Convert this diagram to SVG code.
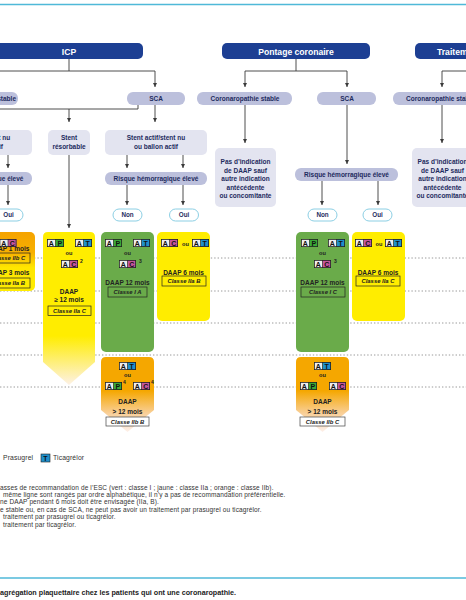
<svg xmlns="http://www.w3.org/2000/svg" xmlns:xlink="http://www.w3.org/1999/xlink" width="466" height="600" viewBox="0 0 466 600">
<style>
text{font-family:"Liberation Sans",Arial,sans-serif}
.hdr{fill:#1d3f93}
.hdt{fill:#fff;font-weight:bold;font-size:8.6px;text-anchor:middle}
.lv{fill:#bcc0dc}
.lv2{fill:#e3e4f0}
.lt{fill:#1e2b5e;font-weight:bold;font-size:6.5px;text-anchor:middle}
.pill{fill:#fff;stroke:#8ccfe4;stroke-width:1}
.pt{fill:#1e2b5e;font-weight:bold;font-size:6.3px;text-anchor:middle}
.dot{stroke:#9a9a9a;stroke-width:1;stroke-dasharray:1.4 2}
.con{stroke:#3a3a3a;stroke-width:0.9;fill:none}
.arr{marker-end:url(#ah)}
.bt{fill:#222;font-weight:bold;font-size:6.5px;text-anchor:middle}
.ou{fill:#222;font-weight:bold;font-size:5.6px;text-anchor:middle}
.sup{fill:#222;font-weight:bold;font-size:5px}
.cl{fill:none;stroke:#222;stroke-width:0.7}
.clw{fill:#fff;stroke:#444;stroke-width:0.7}
.clt{fill:#222;font-weight:bold;font-style:italic;font-size:5.9px;text-anchor:middle}
.bl{fill:#111;font-weight:bold;font-size:7px;text-anchor:middle}
.fn{fill:#333;font-size:6.5px;letter-spacing:0.12px}
.green{fill:#6aab4a}
.yellow{fill:#ffed00}
</style>
<defs>
<marker id="ah" viewBox="0 0 6 6" refX="6" refY="3" markerWidth="4.5" markerHeight="4.5" markerUnits="userSpaceOnUse" orient="auto">
<path d="M0,0 L6,3 L0,6 z" fill="#3a3a3a"/>
</marker>
<linearGradient id="gYR" x1="0" y1="0" x2="0" y2="1">
<stop offset="0" stop-color="#ffed00"/><stop offset="0.68" stop-color="#ffed00"/><stop offset="1" stop-color="#fdf1e6"/>
</linearGradient>
<linearGradient id="gOr" x1="0" y1="0" x2="0" y2="1">
<stop offset="0" stop-color="#f5a700"/><stop offset="0.45" stop-color="#f5a700"/><stop offset="0.75" stop-color="#f9cf98"/><stop offset="1" stop-color="#fdf0ea"/>
</linearGradient>
<linearGradient id="gL" x1="0" y1="0" x2="0" y2="1">
<stop offset="0" stop-color="#f5a300"/><stop offset="0.35" stop-color="#f7b000"/><stop offset="0.6" stop-color="#ffe600"/><stop offset="1" stop-color="#ffed00"/>
</linearGradient>
<g id="bAP"><rect x="0" y="0" width="8.5" height="8" fill="#eeeeee"/><rect x="8.5" y="0" width="8.5" height="8" fill="#3aa836"/><rect x="0.4" y="0.4" width="16.2" height="7.2" fill="none" stroke="#222" stroke-width="0.8"/><line x1="8.5" y1="0" x2="8.5" y2="8" stroke="#222" stroke-width="0.6"/><text x="4.25" y="6.7" class="bl">A</text><text x="12.75" y="6.7" class="bl">P</text></g>
<g id="bAT"><rect x="0" y="0" width="8.5" height="8" fill="#eeeeee"/><rect x="8.5" y="0" width="8.5" height="8" fill="#1f8fcb"/><rect x="0.4" y="0.4" width="16.2" height="7.2" fill="none" stroke="#222" stroke-width="0.8"/><line x1="8.5" y1="0" x2="8.5" y2="8" stroke="#222" stroke-width="0.6"/><text x="4.25" y="6.7" class="bl">A</text><text x="12.75" y="6.7" class="bl">T</text></g>
<g id="bAC"><rect x="0" y="0" width="8.5" height="8" fill="#eeeeee"/><rect x="8.5" y="0" width="8.5" height="8" fill="#c5559b"/><rect x="0.4" y="0.4" width="16.2" height="7.2" fill="none" stroke="#222" stroke-width="0.8"/><line x1="8.5" y1="0" x2="8.5" y2="8" stroke="#222" stroke-width="0.6"/><text x="4.25" y="6.7" class="bl">A</text><text x="12.75" y="6.7" class="bl">C</text></g>
</defs>
<rect x="0" y="0" width="466" height="600" fill="#ffffff"/>
<line x1="0" y1="4.5" x2="466" y2="4.5" stroke="#4fb9d8" stroke-width="1.5"/>
<line x1="0" y1="578" x2="466" y2="578" stroke="#4fb9d8" stroke-width="1.5"/>
<g id="timeline">
<line class="dot" x1="0" y1="258" x2="466" y2="258"/>
<line class="dot" x1="0" y1="291" x2="466" y2="291"/>
<line class="dot" x1="0" y1="323" x2="466" y2="323"/>
<line class="dot" x1="0" y1="355" x2="466" y2="355"/>
<line class="dot" x1="0" y1="387" x2="466" y2="387"/>
</g>
<g id="connectors">
<polyline class="con" points="69,59 69,71"/>
<polyline class="con" points="0,71 155,71"/>
<line class="con arr" x1="155" y1="71" x2="155" y2="87"/>
<polyline class="con" points="138,105 138,109 0,109"/>
<line class="con arr" x1="69" y1="109" x2="69" y2="122"/>
<line class="con arr" x1="155" y1="105" x2="155" y2="122"/>
<line class="con arr" x1="127" y1="155" x2="127" y2="168"/>
<line class="con arr" x1="183" y1="155" x2="183" y2="168"/>
<line class="con arr" x1="127" y1="185" x2="127" y2="205"/>
<line class="con arr" x1="183" y1="185" x2="183" y2="205"/>
<line class="con arr" x1="69" y1="155" x2="69" y2="228"/>
<line class="con arr" x1="8" y1="155" x2="8" y2="168"/>
<line class="con arr" x1="8" y1="185" x2="8" y2="205"/>
<polyline class="con" points="296,59 296,71"/>
<polyline class="con" points="245,71 347,71"/>
<line class="con arr" x1="245" y1="71" x2="245" y2="87"/>
<line class="con arr" x1="347" y1="71" x2="347" y2="87"/>
<line class="con arr" x1="245" y1="105" x2="245" y2="143"/>
<line class="con arr" x1="347" y1="105" x2="347" y2="164"/>
<line class="con arr" x1="322" y1="181" x2="322" y2="205"/>
<line class="con arr" x1="378" y1="181" x2="378" y2="205"/>
<polyline class="con" points="442,71 466,71"/>
<line class="con arr" x1="442" y1="71" x2="442" y2="87"/>
<line class="con arr" x1="442" y1="105" x2="442" y2="143"/>
</g>
<g id="h-icp"><rect class="hdr" x="-5" y="43" width="148" height="16" rx="5"/><text class="hdt" x="69" y="54.5">ICP</text></g>
<g id="h-pontage"><rect class="hdr" x="222" y="43" width="148" height="16" rx="5"/><text class="hdt" x="296" y="54.5">Pontage coronaire</text></g>
<g id="h-traitement"><rect class="hdr" x="415" y="43" width="148" height="16" rx="5"/><text class="hdt" x="437" y="54.5" style="text-anchor:start">Traitement</text></g>
<g id="icp-stable"><rect class="lv" x="-60" y="92" width="78" height="13" rx="6"/><text class="lt" x="16" y="100.8" style="text-anchor:end">Coronaropathie stable</text></g>
<g id="icp-sca"><rect class="lv" x="127" y="92" width="58" height="13" rx="6"/><text class="lt" x="156" y="100.8">SCA</text></g>
<g id="icp-stable-stent"><rect class="lv2" x="-70" y="130" width="102" height="25" rx="5"/><text class="lt" x="-19" y="140">Stent actif/stent nu</text><text class="lt" x="-19" y="149">ou ballon actif</text></g>
<g id="icp-resorbable"><rect class="lv2" x="48" y="130" width="42" height="25" rx="5"/><text class="lt" x="69" y="139.5">Stent</text><text class="lt" x="69" y="148.5">résorbable</text></g>
<g id="icp-sca-stent"><rect class="lv2" x="105" y="130" width="102" height="25" rx="5"/><text class="lt" x="156" y="140">Stent actif/stent nu</text><text class="lt" x="156" y="149">ou ballon actif</text></g>
<g id="icp-stable-risque"><rect class="lv" x="-70" y="172" width="102" height="13" rx="6"/><text class="lt" x="-19" y="180.8">Risque hémorragique élevé</text></g>
<g id="icp-sca-risque"><rect class="lv" x="105" y="172" width="102" height="13" rx="6"/><text class="lt" x="156" y="180.8">Risque hémorragique élevé</text></g>
<g id="icp-stable-oui"><rect class="pill" x="-6" y="209" width="29" height="12" rx="6"/><text class="pt" x="8.5" y="217.3">Oui</text></g>
<g id="icp-sca-non"><rect class="pill" x="113" y="209" width="29" height="12" rx="6"/><text class="pt" x="127.5" y="217.3">Non</text></g>
<g id="icp-sca-oui"><rect class="pill" x="169.5" y="209" width="29" height="12" rx="6"/><text class="pt" x="184" y="217.3">Oui</text></g>
<g id="icp-stable-rx">
<rect x="-18" y="232" width="53" height="59" rx="5" fill="url(#gL)"/>
<use xlink:href="#bAC" x="-0.5" y="239"/>
<text class="bt" x="9" y="251">DAAP 1 mois</text>
<rect class="cl" x="-13" y="253" width="43" height="10"/>
<text class="clt" x="8.5" y="260.3">Classe IIb C</text>
<text class="bt" x="9" y="275">DAAP 3 mois</text>
<rect class="cl" x="-13" y="278" width="43" height="10"/>
<text class="clt" x="8.5" y="285.3">Classe IIa B</text>
</g>
<g id="icp-resorbable-rx">
<path d="M43,237 Q43,232 48,232 H90 Q95,232 95,237 V362 L69,385 L43,362 Z" fill="url(#gYR)"/>
<use xlink:href="#bAP" x="47" y="239"/>
<use xlink:href="#bAT" x="75" y="239"/>
<text class="ou" x="69" y="255">ou</text>
<use xlink:href="#bAC" x="61" y="260"/>
<text class="sup" x="80" y="263">2</text>
<text class="bt" x="69" y="293.5">DAAP</text>
<text class="bt" x="69" y="302">≥ 12 mois</text>
<rect class="cl" x="48" y="306" width="43" height="9.5"/>
<text class="clt" x="69.5" y="313">Classe IIa C</text>
</g>
<g id="icp-sca-non-rx">
<rect class="green" x="101" y="232" width="53" height="120" rx="5"/>
<use xlink:href="#bAP" x="105" y="239"/>
<use xlink:href="#bAT" x="133" y="239"/>
<text class="ou" x="127.5" y="255">ou</text>
<use xlink:href="#bAC" x="119" y="260"/>
<text class="sup" x="139" y="263">3</text>
<text class="bt" x="127.5" y="284.5">DAAP 12 mois</text>
<rect class="cl" x="108" y="287" width="39" height="10"/>
<text class="clt" x="127.5" y="294.3">Classe I A</text>
</g>
<g id="icp-sca-oui-rx">
<rect class="yellow" x="157" y="232" width="53" height="89" rx="5"/>
<use xlink:href="#bAC" x="161" y="239"/>
<text class="ou" x="185.5" y="245.5">ou</text>
<use xlink:href="#bAT" x="192" y="239"/>
<text class="bt" x="183.5" y="274.5">DAAP 6 mois</text>
<rect class="cl" x="162" y="276" width="44" height="10"/>
<text class="clt" x="184" y="283.3">Classe IIa B</text>
</g>
<g id="icp-sca-non-ext">
<path d="M101,362 Q101,357 106,357 H149 Q154,357 154,362 V410 L127.5,432 L101,410 Z" fill="url(#gOr)"/>
<use xlink:href="#bAT" x="119" y="362"/>
<text class="ou" x="127.5" y="377">ou</text>
<use xlink:href="#bAP" x="105" y="382"/>
<text class="sup" x="123" y="384">4</text>
<use xlink:href="#bAC" x="133" y="382"/>
<text class="sup" x="151" y="384">4</text>
<text class="bt" x="127.5" y="404">DAAP</text>
<text class="bt" x="127.5" y="414">&gt; 12 mois</text>
<rect class="clw" x="106" y="417" width="43" height="9"/>
<text class="clt" x="127.5" y="423.7">Classe IIb B</text>
</g>
<g id="p-stable"><rect class="lv" x="197" y="92" width="95" height="13" rx="6"/><text class="lt" x="245" y="100.8">Coronaropathie stable</text></g>
<g id="p-sca"><rect class="lv" x="317" y="92" width="59" height="13" rx="6"/><text class="lt" x="347" y="100.8">SCA</text></g>
<g id="p-pas"><rect class="lv2" x="215" y="148" width="61" height="59" rx="5"/><text class="lt" x="245.5" y="164">Pas d’indication</text><text class="lt" x="245.5" y="172.5">de DAAP sauf</text><text class="lt" x="245.5" y="181">autre indication</text><text class="lt" x="245.5" y="189.5">antécédente</text><text class="lt" x="245.5" y="198">ou concomitante</text></g>
<g id="p-risque"><rect class="lv" x="295" y="168" width="103" height="13" rx="6"/><text class="lt" x="346.5" y="176.8">Risque hémorragique élevé</text></g>
<g id="p-non"><rect class="pill" x="308" y="209" width="29" height="12" rx="6"/><text class="pt" x="322.5" y="217.3">Non</text></g>
<g id="p-oui"><rect class="pill" x="363" y="209" width="29" height="12" rx="6"/><text class="pt" x="377.5" y="217.3">Oui</text></g>
<g id="p-non-rx">
<rect class="green" x="296" y="232" width="53" height="120" rx="5"/>
<use xlink:href="#bAP" x="301" y="239"/>
<use xlink:href="#bAT" x="328" y="239"/>
<text class="ou" x="322.5" y="255">ou</text>
<use xlink:href="#bAC" x="314" y="260"/>
<text class="sup" x="334" y="263">3</text>
<text class="bt" x="322.5" y="284.5">DAAP 12 mois</text>
<rect class="cl" x="301" y="287" width="44" height="10"/>
<text class="clt" x="323" y="294.3">Classe I C</text>
</g>
<g id="p-oui-rx">
<rect class="yellow" x="352" y="232" width="53" height="89" rx="5"/>
<use xlink:href="#bAC" x="355" y="239"/>
<text class="ou" x="379" y="245.5">ou</text>
<use xlink:href="#bAT" x="385" y="239"/>
<text class="bt" x="378" y="274.5">DAAP 6 mois</text>
<rect class="cl" x="356" y="276" width="44" height="10"/>
<text class="clt" x="378" y="283.3">Classe IIa C</text>
</g>
<g id="p-non-ext">
<path d="M296,362 Q296,357 301,357 H344 Q349,357 349,362 V410 L322.5,432 L296,410 Z" fill="url(#gOr)"/>
<use xlink:href="#bAT" x="314" y="362"/>
<text class="ou" x="322.5" y="377">ou</text>
<use xlink:href="#bAP" x="300" y="382"/>
<use xlink:href="#bAC" x="329" y="382"/>
<text class="bt" x="322.5" y="404">DAAP</text>
<text class="bt" x="322.5" y="414">&gt; 12 mois</text>
<rect class="clw" x="300" y="417" width="45" height="9"/>
<text class="clt" x="322.5" y="423.7">Classe IIb C</text>
</g>
<g id="t-stable"><rect class="lv" x="393" y="92" width="97" height="13" rx="6"/><text class="lt" x="406" y="100.8" style="text-anchor:start">Coronaropathie stable</text></g>
<g id="t-pas"><rect class="lv2" x="412" y="148" width="61" height="59" rx="5"/><text class="lt" x="442.5" y="164">Pas d’indication</text><text class="lt" x="442.5" y="172.5">de DAAP sauf</text><text class="lt" x="442.5" y="181">autre indication</text><text class="lt" x="442.5" y="189.5">antécédente</text><text class="lt" x="442.5" y="198">ou concomitante</text></g>
<g id="legend">
<text class="fn" x="3" y="460" style="font-size:6.8px">Prasugrel</text>
<rect x="41" y="454" width="9" height="8" fill="#1f8fcb" stroke="#222" stroke-width="0.6"/>
<text class="bl" x="45.5" y="460.7">T</text>
<text class="fn" x="53" y="460" style="font-size:6.8px">Ticagrélor</text>
</g>
<g id="notes">
<text class="fn" x="0" y="490">asses de recommandation de l’ESC (vert : classe I ; jaune : classe IIa ; orange : classe IIb).</text>
<text class="fn" x="3" y="497">même ligne sont rangés par ordre alphabétique, il n’y a pas de recommandation préférentielle.</text>
<text class="fn" x="0" y="504">ne DAAP pendant 6 mois doit être envisagée (IIa, B).</text>
<text class="fn" x="0" y="511.5">e stable ou, en cas de SCA, ne peut pas avoir un traitement par prasugrel ou ticagrélor.</text>
<text class="fn" x="3" y="519">traitement par prasugrel ou ticagrélor.</text>
<text class="fn" x="3" y="526.5">traitement par ticagrélor.</text>
<text x="0" y="595" style="fill:#222;font-weight:bold;font-size:7.2px">agrégation plaquettaire chez les patients qui ont une coronaropathie.</text>
</g>
</svg>
